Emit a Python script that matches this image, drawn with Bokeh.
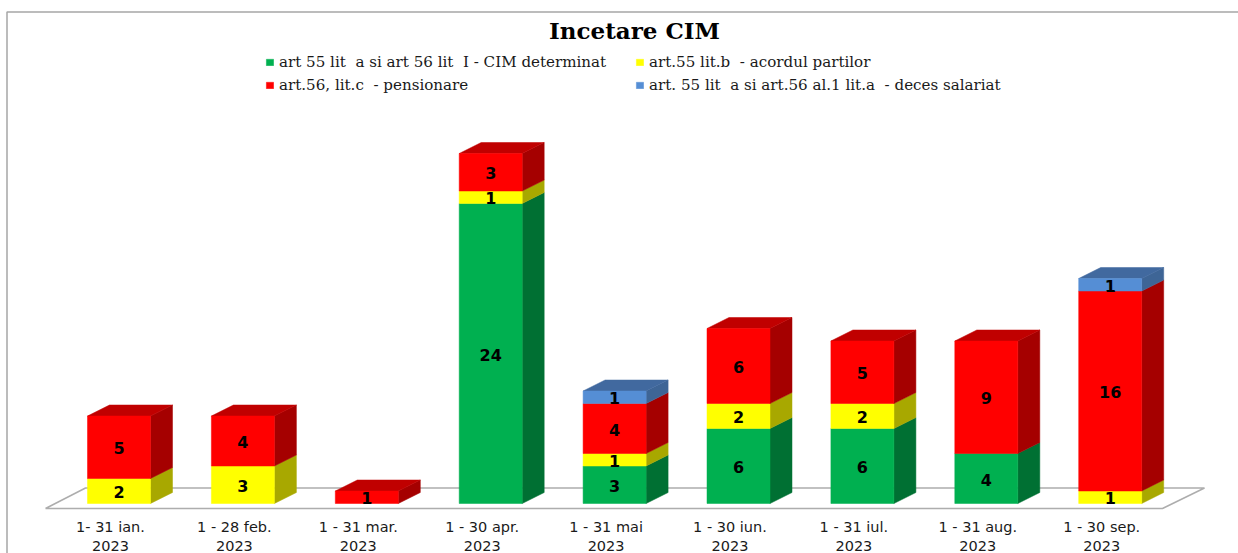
from bokeh.plotting import figure
from bokeh.embed import file_html
from bokeh.resources import INLINE
from bokeh.models import ColumnDataSource, Legend, LegendItem, LinearAxis, FixedTicker, Range1d
from bokeh.core.properties import value

categories = ["1- 31 ian.\n2023", "1 - 28 feb.\n2023", "1 - 31 mar.\n2023", "1 - 30 apr.\n2023",
              "1 - 31 mai\n2023", "1 - 30 iun.\n2023", "1 - 31 iul.\n2023", "1 - 31 aug.\n2023",
              "1 - 30 sep.\n2023"]
green = [0, 0, 0, 24, 3, 6, 6, 4, 0]
yellow = [2, 3, 0, 1, 1, 2, 2, 0, 1]
red = [5, 4, 1, 3, 4, 6, 5, 9, 16]
blue = [0, 0, 0, 0, 1, 0, 0, 0, 1]
names = ["art 55 lit  a si art 56 lit  I - CIM determinat", "art.55 lit.b  - acordul partilor",
         "art.56, lit.c  - pensionare", "art. 55 lit  a si art.56 al.1 lit.a  - deces salariat"]
title = "Incetare CIM"

PX, PY = 123.9, 12.5            # pixels per category / per unit
x0_px, y0_px = 110.0, 503.0     # picture position of category 0 and of value 0
W, H = 1238, 553
fx = lambda px: (px - x0_px) / PX
fy = lambda py: (y0_px - py) / PY

series = [(green, "#00B050", "#007033", "#007033"),
          (yellow, "#FFFF00", "#A8A800", "#C0C000"),
          (red, "#FF0000", "#A50000", "#C00000"),
          (blue, "#558ED5", "#3E6596", "#41699F")]

p = figure(width=W, height=H, output_backend="svg", toolbar_location=None, min_border=0,
           x_range=Range1d(fx(0), fx(W)), y_range=Range1d(fy(H), fy(0)),
           x_axis_type=None, y_axis_type=None, outline_line_color=None,
           background_fill_color="white", border_fill_color="white")
p.grid.visible = False

# chart frame
p.line([fx(6.5), fx(6.5), fx(W)], [fy(H), fy(11.5), fy(11.5)], line_color="#A6A6A6", line_width=1.5)

# floor
p.line([fx(45), fx(85), fx(1204), fx(1162), fx(45)], [fy(508), fy(487.5), fy(487.5), fy(508), fy(508)],
       line_color="#ADADAD", line_width=1.5)

BW = 63.0 / PX
OFF = 8.5 / PX
DX = 22 / PX
DY = 11 / PY

bottoms = [0] * len(categories)
stack_top = [sum(v) for v in zip(green, yellow, red, blue)]
front_handles = []
lab_x, lab_y, lab_t = [], [], []
for vals, col, side, top in series:
    xs = [i for i, v in enumerate(vals) if v > 0]
    lefts = [i + OFF - BW / 2 for i in xs]
    rights = [i + OFF + BW / 2 for i in xs]
    bot = [bottoms[i] for i in xs]
    tp = [bottoms[i] + vals[i] for i in xs]
    # side faces
    p.patches([[r, r + DX, r + DX, r] for r in rights],
              [[b, b + DY, t + DY, t] for b, t in zip(bot, tp)],
              fill_color=side, line_color=side, line_width=0.5)
    # top faces of the stack
    tops = [(l, r, t) for l, r, t, i in zip(lefts, rights, tp, xs) if t == stack_top[i]]
    if tops:
        p.patches([[l, l + DX, r + DX, r] for l, r, t in tops],
                  [[t, t + DY, t + DY, t] for l, r, t in tops],
                  fill_color=top, line_color=top, line_width=0.5)
    src = ColumnDataSource(dict(left=lefts, right=rights, bottom=bot, top=tp))
    front_handles.append(p.quad(left="left", right="right", bottom="bottom", top="top", source=src,
                                fill_color=col, line_color=col, line_width=0.5))
    for i, b, t in zip(xs, bot, tp):
        lab_x.append(i + OFF)
        lab_y.append((b + t) / 2)
        lab_t.append(str(vals[i]))
    for i in xs:
        bottoms[i] += vals[i]

p.text(lab_x, lab_y, text=lab_t, text_font=value("DejaVu Sans"), text_font_style="bold",
       text_font_size="16px", text_align="center", text_baseline="middle", text_color="black", y_offset=1)

# category axis
axis = LinearAxis(fixed_location=0, ticker=FixedTicker(ticks=list(range(len(categories)))),
                  major_label_overrides={i: c for i, c in enumerate(categories)},
                  axis_line_color=None, major_tick_line_color=None, minor_tick_line_color=None,
                  major_label_standoff=9, major_label_text_font="DejaVu Sans",
                  major_label_text_font_size="14.5px", major_label_text_color="#1a1a1a",
                  major_label_orientation="horizontal")
p.add_layout(axis, "below")

# title
p.text([fx(634)], [fy(30)], text=[title], text_font=value("DejaVu Serif"), text_font_style="bold",
       text_font_size="23px", text_align="center", text_baseline="middle", text_color="black")

# legend, two columns
for loc, pairs in [((265, 459), [(0, 0), (2, 2)]), ((635, 459), [(1, 1), (3, 3)])]:
    p.add_layout(Legend(items=[LegendItem(label=names[i], renderers=[front_handles[j]]) for i, j in pairs],
                        location=loc, border_line_color=None, background_fill_alpha=0,
                        glyph_width=9, glyph_height=8, label_standoff=5, spacing=5, padding=4, margin=0,
                        label_text_font="DejaVu Serif", label_text_font_size="15.1px",
                        label_text_color="#1a1a1a"), "center")

open("out.html", "w").write(file_html(p, INLINE))
